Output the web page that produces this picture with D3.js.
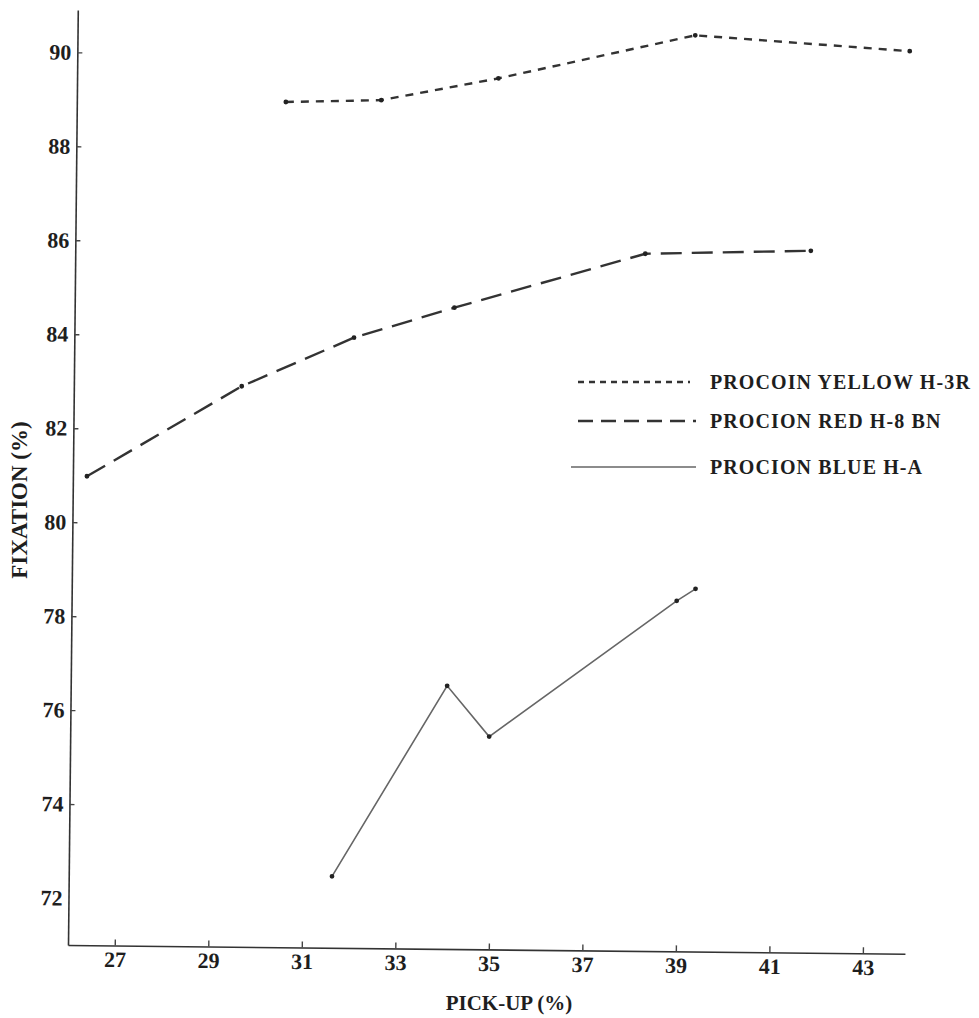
<!DOCTYPE html>
<html>
<head>
<meta charset="utf-8">
<script src="https://cdn.jsdelivr.net/npm/d3@7"></script>
<style>
  body { margin: 0; background: #fff; }
  text { font-family: "Liberation Serif", "Times New Roman", serif; font-weight: bold; fill: #1e1e1e; }
</style>
</head>
<body>
<div id="chart"></div>
<script>
// pick-up (%) vs fixation (%) for three dyes
const yellowPickup = [30.47, 32.51, 35.01, 39.21, 43.8];
const yellowFix = [88.99, 89.05, 89.54, 90.5, 90.21];
const redPickup = [26.3, 29.59, 31.98, 34.12, 38.19, 41.73];
const redFix = [80.98, 82.93, 83.99, 84.65, 85.84, 85.94];
const bluePickup = [31.63, 34.05, 34.96, 38.94, 39.34];
const blueFix = [72.52, 76.6, 75.53, 78.46, 78.72];
const xTicks = [27, 29, 31, 33, 35, 37, 39, 41, 43];
const yTicks = [72, 74, 76, 78, 80, 82, 84, 86, 88, 90];

const W = 979, H = 1018;
const origin = { x: 68, y: 945 },
  width = 837,
  height = 935;

const svg = d3.select("#chart").append("svg").attr("width", W).attr("height", H);

// the scan is tilted a little, so the plot group is rotated too
const g = svg
  .append("g")
  .attr("transform", `translate(${origin.x},${origin.y}) rotate(0.6) translate(0,${-height})`);

const x = d3.scaleLinear().domain([26, 43.9]).range([0, width]);
const y = d3.scaleLinear().domain([71, 90.9]).range([height, 0]);

const series = [
  { label: "PROCOIN YELLOW H-3R", xs: yellowPickup, ys: yellowFix, dash: "8,7", stroke: "#333", sw: 2.4, legDash: "6,5" },
  { label: "PROCION RED H-8 BN", xs: redPickup, ys: redFix, dash: "21,10", stroke: "#333", sw: 2.4, legDash: "15,8" },
  { label: "PROCION BLUE H-A", xs: bluePickup, ys: blueFix, dash: null, stroke: "#666", sw: 1.6, legDash: null },
];

// axes
const yAxis = g.append("g")
  .call(d3.axisLeft(y).tickValues(yTicks).tickFormat(d3.format("d")).tickSizeInner(-5).tickSizeOuter(0).tickPadding(6));
const xAxis = g.append("g")
  .attr("transform", `translate(0,${height})`)
  .call(d3.axisBottom(x).tickValues(xTicks).tickFormat(d3.format("d")).tickSizeInner(-6).tickSizeOuter(0).tickPadding(6));

[yAxis, xAxis].forEach((a) => {
  a.attr("font-family", null);
  a.select(".domain").attr("stroke", "#333").attr("stroke-width", 1.6);
  a.selectAll(".tick line").attr("stroke", "#444").attr("stroke-width", 1.4);
  a.selectAll(".tick text").attr("font-size", 22).attr("fill", "#1e1e1e")
    .style("font-family", '"Liberation Serif", "Times New Roman", serif').style("font-weight", "bold");
});
yAxis.select(".tick:first-of-type line").remove();

// lines + dots
series.forEach((s) => {
  const pts = s.xs.map((v, i) => [v, s.ys[i]]);
  g.append("path")
    .datum(pts)
    .attr("fill", "none")
    .attr("stroke", s.stroke)
    .attr("stroke-width", s.sw)
    .attr("stroke-dasharray", s.dash)
    .attr("d", d3.line().x((d) => x(d[0])).y((d) => y(d[1])));
  g.selectAll(null)
    .data(pts)
    .enter()
    .append("circle")
    .attr("cx", (d) => x(d[0]))
    .attr("cy", (d) => y(d[1]))
    .attr("r", 2.4)
    .attr("fill", "#222");
});

// axis titles
svg.append("text")
  .attr("x", 509).attr("y", 1010)
  .attr("text-anchor", "middle")
  .attr("font-size", 21)
  .text("PICK-UP (%)");
svg.append("text")
  .attr("transform", "translate(27,500) rotate(-90)")
  .attr("text-anchor", "middle")
  .attr("font-size", 23)
  .text("FIXATION (%)");

// legend
const legendY = [382, 421, 467];
const legend = svg.append("g");
series.forEach((s, i) => {
  legend.append("line")
    .attr("x1", i === 2 ? 571 : 578).attr("x2", i === 0 ? 690 : 696)
    .attr("y1", legendY[i]).attr("y2", legendY[i])
    .attr("stroke", s.stroke)
    .attr("stroke-width", s.sw)
    .attr("stroke-dasharray", s.legDash);
  legend.append("text")
    .attr("x", 710).attr("y", legendY[i])
    .attr("dy", "0.35em")
    .attr("font-size", 20)
    .attr("letter-spacing", 1.1)
    .text(s.label);
});
</script>
</body>
</html>
